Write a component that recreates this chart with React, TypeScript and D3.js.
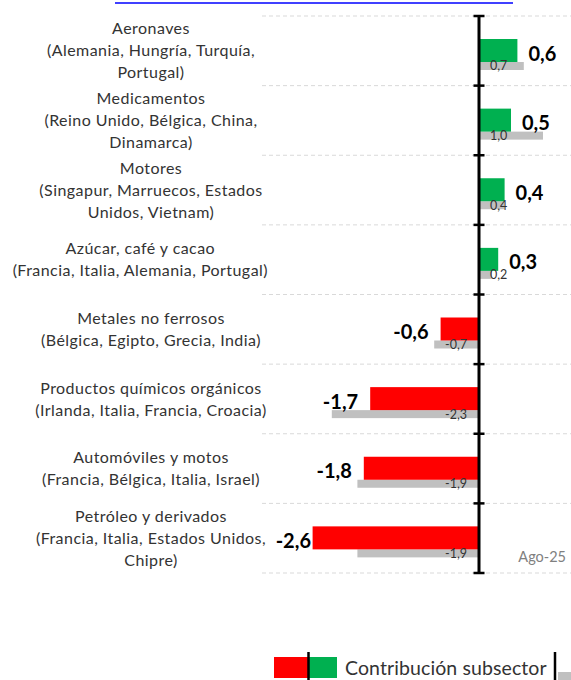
import React, { useEffect, useRef } from "react";
import * as d3 from "d3";

// subsectors (main partners), current contribution and previous month
const categories = [
  ["Aeronaves", "(Alemania, Hungría, Turquía,", "Portugal)"],
  ["Medicamentos", "(Reino Unido, Bélgica, China,", "Dinamarca)"],
  ["Motores", "(Singapur, Marruecos, Estados", "Unidos, Vietnam)"],
  ["Azúcar, café y cacao", "(Francia, Italia, Alemania, Portugal)"],
  ["Metales no ferrosos", "(Bélgica, Egipto, Grecia, India)"],
  ["Productos químicos orgánicos", "(Irlanda, Italia, Francia, Croacia)"],
  ["Automóviles y motos", "(Francia, Bélgica, Italia, Israel)"],
  ["Petróleo y derivados", "(Francia, Italia, Estados Unidos,", "Chipre)"],
];
const contribution = [0.6, 0.5, 0.4, 0.3, -0.6, -1.7, -1.8, -2.6];
const previous = [0.7, 1.0, 0.4, 0.2, -0.7, -2.3, -1.9, -1.9];
const periodLabel = "Ago-25";
const legendLabel = "Contribución subsector";

const fmt = (v: number) => d3.format(".1f")(v).replace(".", ",").replace("−", "-");

const App = () => {
  const ref = useRef<SVGSVGElement>(null);

  useEffect(() => {
    const width = 571, height = 680;
    const svg = d3.select(ref.current)
      .attr("width", width)
      .attr("height", height)
      .attr("font-family", "Lato, 'Open Sans', sans-serif");
    svg.selectAll("*").remove();

    const x = d3.scaleLinear().domain([-2.7, 1.4]).range([306.2, 568.6]);
    const y = d3.scaleBand<number>()
      .domain(d3.range(categories.length))
      .range([16, 573]);
    const x0 = x(0);
    const bw = y.bandwidth();

    // cut-off title underline at the very top
    svg.append("line")
      .attr("x1", 115).attr("x2", 513)
      .attr("y1", 3).attr("y2", 3)
      .attr("stroke", "#0000ff").attr("stroke-width", 1.5);

    // dashed gridlines between categories
    const edges = d3.range(categories.length + 1).map(i => i < categories.length ? y(i)! : y(categories.length - 1)! + bw);
    svg.append("g").selectAll("line")
      .data(edges)
      .join("line")
        .attr("x1", 262).attr("x2", 571)
        .attr("y1", d => d).attr("y2", d => d)
        .attr("stroke", "#d9d9d9")
        .attr("stroke-dasharray", "4,3");

    // category labels, centred, kept left of the plot area
    const lab = svg.append("g").selectAll("text")
      .data(categories)
      .join("text")
        .attr("text-anchor", "middle")
        .attr("font-size", 16)
        .attr("letter-spacing", 0.45)
        .attr("fill", "#333");
    lab.each(function (d, i) {
      const t = d3.select(this);
      const spans = t.selectAll("tspan")
        .data(d)
        .join("tspan")
          .attr("x", 151)
          .attr("y", (s, j) => y(i)! + bw / 2 + (j - (d.length - 1) / 2) * 22)
          .attr("dy", "0.35em")
          .text(s => s);
      const maxW = d3.max(spans.nodes(), n => (n as SVGTSpanElement).getComputedTextLength()) || 0;
      const cx = Math.min(151, 268 - maxW / 2);
      spans.attr("x", cx);
    });

    // previous month (gray)
    svg.append("g").selectAll("rect")
      .data(previous)
      .join("rect")
        .attr("x", d => Math.min(x(d), x0))
        .attr("width", d => Math.abs(x(d) - x0))
        .attr("y", (d, i) => y(i)! + 46)
        .attr("height", 8)
        .attr("fill", "#c0c0c0");

    // current contribution
    svg.append("g").selectAll("rect")
      .data(contribution)
      .join("rect")
        .attr("x", d => Math.min(x(d), x0))
        .attr("width", d => Math.abs(x(d) - x0))
        .attr("y", (d, i) => y(i)! + 23)
        .attr("height", 23)
        .attr("fill", d => d >= 0 ? "#00b050" : "#ff0000");

    // value labels
    svg.append("g").selectAll("text")
      .data(contribution)
      .join("text")
        .attr("x", d => d >= 0 ? x(d) + 11 : Math.max(x(d) - 12, 311))
        .attr("y", (d, i) => y(i)! + 37.5)
        .attr("dy", "0.35em")
        .attr("text-anchor", d => d >= 0 ? "start" : "end")
        .attr("font-size", 20)
        .attr("font-weight", "bold")
        .attr("fill", "#000")
        .text(d => fmt(d));

    svg.append("g").selectAll("text")
      .data(previous)
      .join("text")
        .attr("x", d => d >= 0 ? x0 + 11 : x0 - 12)
        .attr("y", (d, i) => y(i)! + 50)
        .attr("dy", "0.35em")
        .attr("text-anchor", d => d >= 0 ? "start" : "end")
        .attr("font-size", 12.5)
        .attr("fill", "#333")
        .text(d => fmt(d));

    // zero axis with tick marks
    svg.append("line")
      .attr("x1", x0).attr("x2", x0)
      .attr("y1", edges[0]).attr("y2", edges[edges.length - 1] + 1)
      .attr("stroke", "#000").attr("stroke-width", 3);
    svg.append("g").selectAll("line")
      .data(edges)
      .join("line")
        .attr("x1", x0 - 5.5).attr("x2", x0 + 5.5)
        .attr("y1", d => d).attr("y2", d => d)
        .attr("stroke", "#000").attr("stroke-width", 2.5);

    svg.append("text")
      .attr("x", 566).attr("y", 562)
      .attr("text-anchor", "end")
      .attr("font-size", 14.5)
      .attr("fill", "#808080")
      .text(periodLabel);

    // legend
    const lg = svg.append("g");
    lg.append("rect").attr("x", 274).attr("y", 657).attr("width", 34).attr("height", 21).attr("fill", "#ff0000");
    lg.append("rect").attr("x", 309).attr("y", 657).attr("width", 28).attr("height", 21).attr("fill", "#00b050");
    lg.append("line").attr("x1", 308.5).attr("x2", 308.5).attr("y1", 652).attr("y2", 680)
      .attr("stroke", "#000").attr("stroke-width", 2.5);
    lg.append("text").attr("x", 345).attr("y", 675)
      .attr("font-size", 19.5).attr("letter-spacing", 0.1).attr("fill", "#333").text(legendLabel);
    lg.append("line").attr("x1", 555).attr("x2", 555).attr("y1", 652).attr("y2", 680)
      .attr("stroke", "#000").attr("stroke-width", 2.5);
    lg.append("rect").attr("x", 558).attr("y", 672).attr("width", 13).attr("height", 8).attr("fill", "#c0c0c0");
  }, []);

  return (
    <div style={{ position: "absolute", left: 0, top: 0 }}>
      <svg ref={ref}></svg>
    </div>
  );
};

export default App;
